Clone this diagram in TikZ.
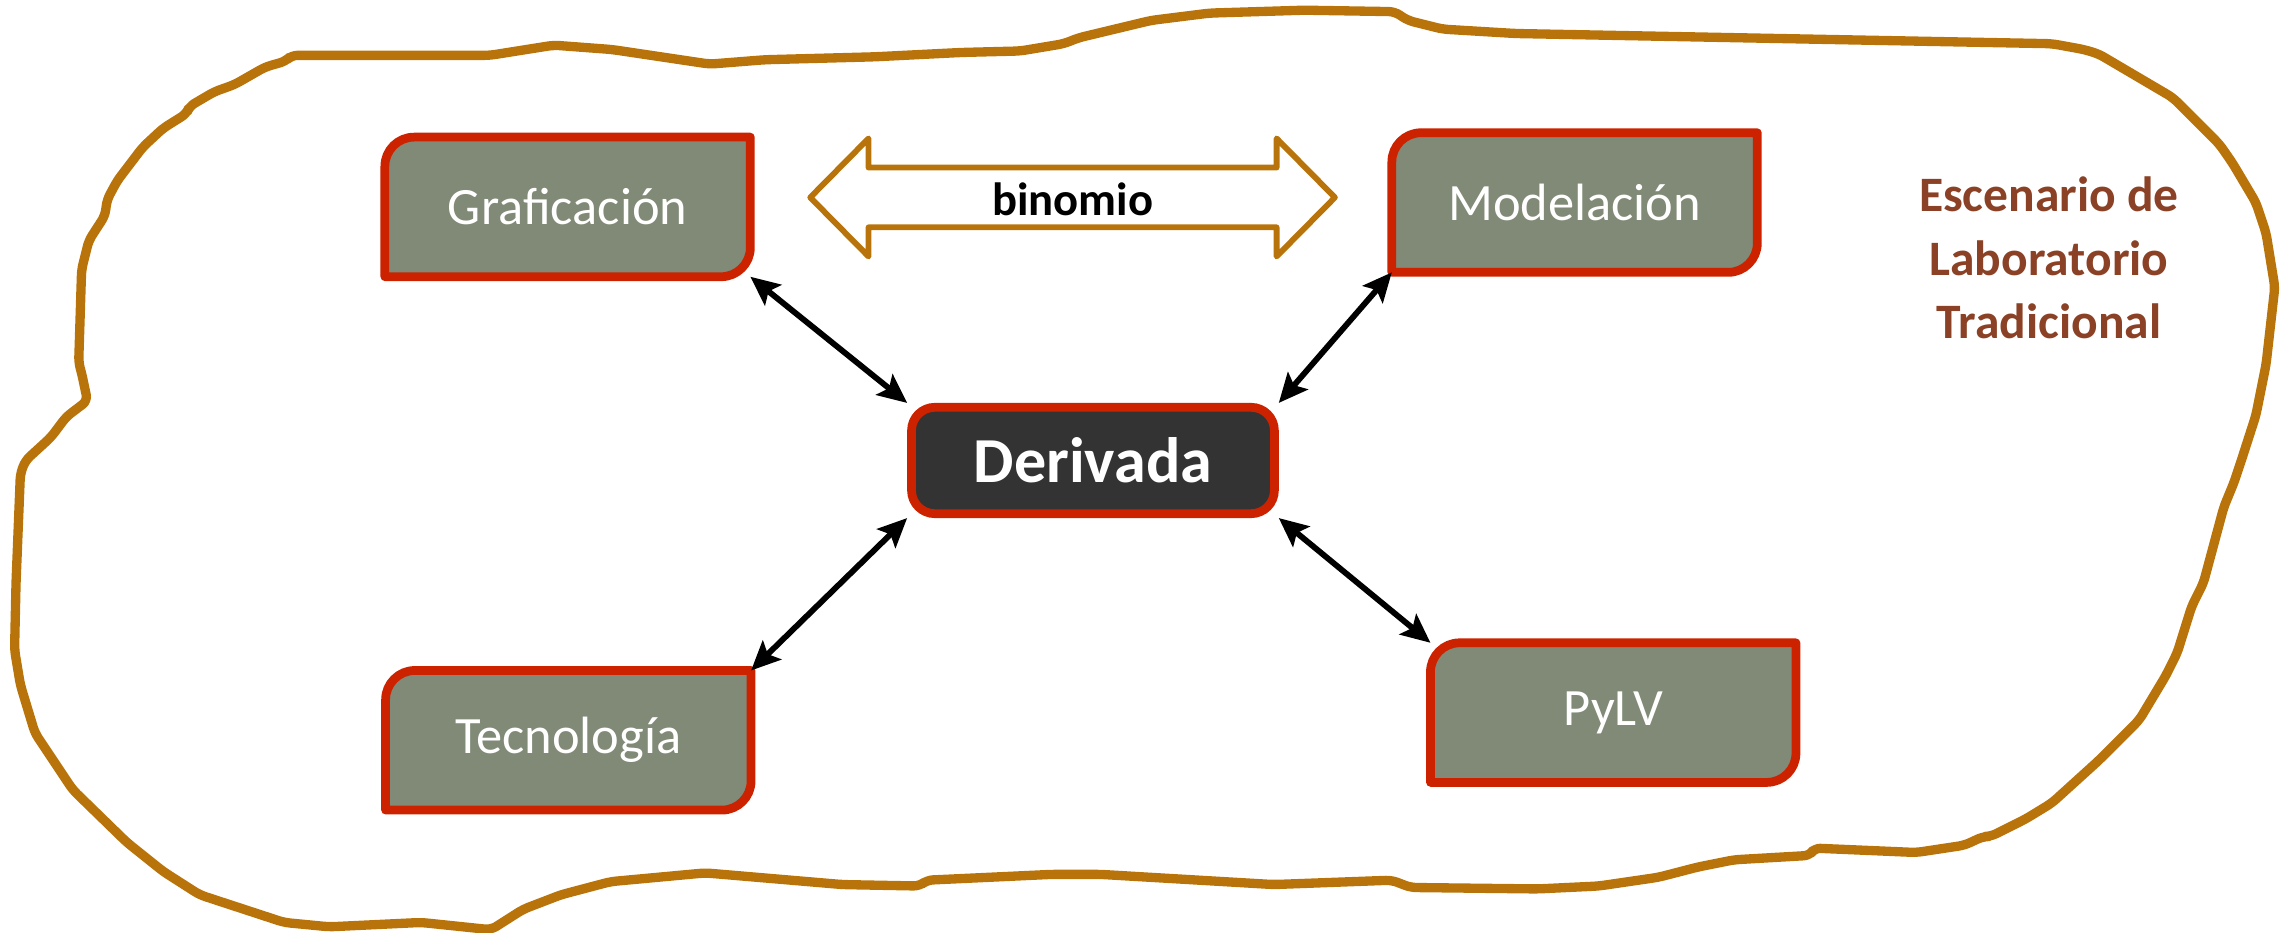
\documentclass[tikz,border=0pt]{standalone}
\usepackage{fontspec}
\setmainfont{Carlito}
\usetikzlibrary{arrows.meta,calc,backgrounds}
\definecolor{blob}{RGB}{184,116,10}
\definecolor{boxfill}{RGB}{128,138,118}
\definecolor{boxline}{RGB}{204,34,0}
\definecolor{darkfill}{RGB}{51,51,51}
\definecolor{esc}{RGB}{139,65,37}
\begin{document}
\begin{tikzpicture}[x=0.5pt,y=-0.5pt,
  concept/.style={minimum width=125pt,minimum height=47.5pt,inner sep=0pt,text=white,font=\fontsize{18}{20}\selectfont},
  boxpath/.style={fill=boxfill,draw=boxline,line width=3pt,line join=round},
  central/.style={draw=boxline,fill=darkfill,line width=3pt,rounded corners=8pt,minimum width=124.5pt,minimum height=36.5pt,inner sep=0pt,text=white,font=\fontsize{22}{24}\selectfont\bfseries},
  conn/.style={{Stealth[length=10pt,width=9pt,inset=2pt]}-{Stealth[length=10pt,width=9pt,inset=2pt]},line width=2pt,black},
  outline/.style={draw=blob,line width=3.2pt,line join=round,rounded corners=2pt},
  dblarrow/.style={draw=blob,line width=2pt,line join=round},
  scene/.style={text=esc,align=center,font=\fontsize{17}{21.75}\selectfont\bfseries}]
\useasboundingbox (0,0) rectangle (1568,640);

% scene outline
\draw[outline] (200,38) -- (336,38) -- (380,31) -- (420,34) -- (487,44) -- (525,41) -- (600,39) -- (660,36) -- (700,35) -- (730,30) -- (740,26) -- (790,14) -- (830,9) -- (895,7) -- (957,8) -- (966,14) -- (990,20) -- (1040,23) -- (1408,30) -- (1430,34) -- (1440,37) -- (1491,67) -- (1523,99) -- (1532,112) -- (1548,139) -- (1555,160) -- (1561,197) -- (1555,250) -- (1548,285) -- (1538,316) -- (1533,331) -- (1526,348) -- (1512,400) -- (1504,416) -- (1494,448) -- (1486,464) -- (1468,494) -- (1440,522) -- (1408,551) -- (1390,562) -- (1366,574) -- (1361,574) -- (1348,580) -- (1315,585) -- (1245,582) -- (1242,587) -- (1190,590) -- (1165,595) -- (1138,602) -- (1097,608) -- (1055,610) -- (968,609) -- (955,604) -- (874,607) -- (755,600) -- (722,600) -- (636,604) -- (631,608) -- (578,607) -- (484,599) -- (419,605) -- (385,614) -- (359,624) -- (337,638) -- (289,633) -- (226,636) -- (195,633) -- (137,614) -- (112,598) -- (87,578) -- (50,542) -- (24,503) -- (14,470) -- (10,446) -- (11,400) -- (14,325) -- (17.5,316) -- (35,300) -- (45.5,286) -- (60,275) -- (56,256) -- (54,249) -- (56,185) -- (61,165) -- (72,148) -- (73.5,137) -- (80.5,124) -- (98,101) -- (112,88) -- (128,78) -- (130,73) -- (147,63) -- (161,58) -- (182,46) -- (196,42) -- cycle;

% nodes
\node[concept] (g) at (389.5,142) {Graficación};
\node[concept] (m) at (1080.5,139) {Modelación};
\node[concept] (t) at (390,508) {Tecnología};
\node[concept] (p) at (1107,489) {PyLV};
\node[central] (d) at (750,316) {Derivada};

\begin{scope}[on background layer]
\foreach \n in {g,m,t,p}{
  \filldraw[boxpath] ($(\n.north west)+(0pt,-10pt)$) .. controls ($(\n.north west)+(0pt,-4.5pt)$) and ($(\n.north west)+(4.5pt,0pt)$) .. ($(\n.north west)+(10pt,0pt)$) -- (\n.north east) -- ($(\n.south east)+(0pt,10pt)$) .. controls ($(\n.south east)+(0pt,4.5pt)$) and ($(\n.south east)+(-4.5pt,0pt)$) .. ($(\n.south east)+(-10pt,0pt)$) -- (\n.south west) -- cycle;
}
\end{scope}

% binomio double arrow
\draw[dblarrow] (556,135.5) -- (596,95) -- (596,115) -- (876,115) -- (876,95) -- (916,135.5) -- (876,176) -- (876,156) -- (596,156) -- (596,176) -- cycle;
\node[font=\fontsize{16}{18}\selectfont\bfseries] (bin) at (736,137) {binomio};

% scene label
\node[scene] (esc) at (1406,177) {Escenario de\\Laboratorio\\Tradicional};

% connectors
\draw[conn] (g.south east) -- (d.north west);
\draw[conn] (m.south west) -- (d.north east);
\draw[conn] (t.north east) -- (d.south west);
\draw[conn] (p.north west) -- (d.south east);
\end{tikzpicture}
\end{document}
